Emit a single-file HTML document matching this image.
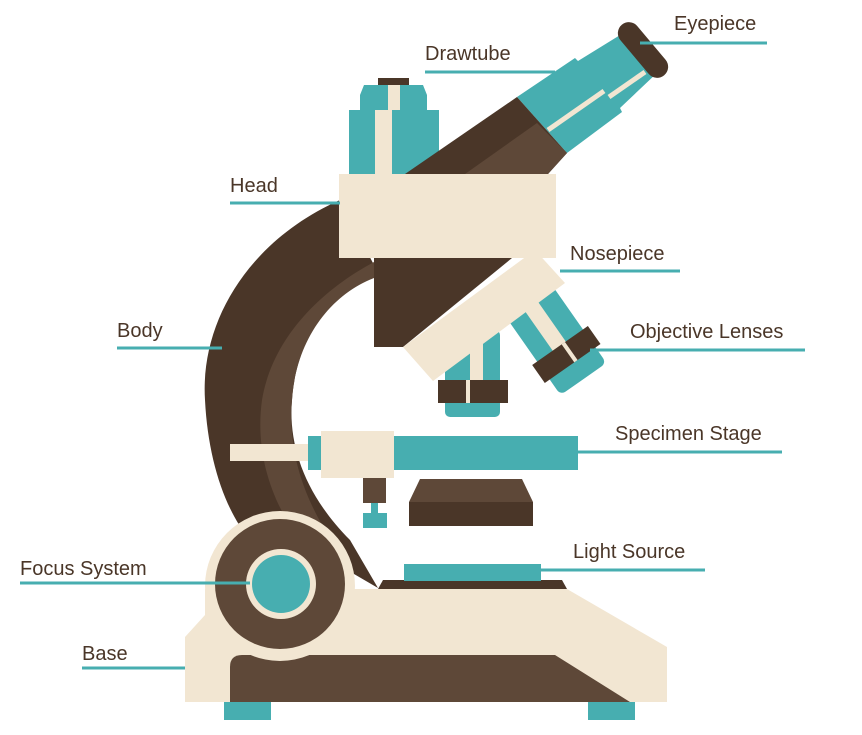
<!DOCTYPE html>
<html><head><meta charset="utf-8"><style>
html,body{margin:0;padding:0;background:#fff;}
svg{display:block;}
text{font-family:"Liberation Sans",sans-serif;font-size:20px;fill:#4A3628;}
</style></head><body>
<svg width="862" height="735" viewBox="0 0 862 735" xmlns="http://www.w3.org/2000/svg">
<!-- arm/body -->
<path d="M340,200 C250,240 200,320 205,400 C208,460 225,510 250,540 L330,560 L378,588 L350,540 C305,495 288,445 292,400 C296,340 330,290 374,265 Z" fill="#4A3628"/>
<path d="M374,262 C318,292 272,340 262,400 C255,450 270,500 300,540 L335,545 C300,495 288,445 292,400 C296,340 330,295 374,278 Z" fill="#5E4838"/>
<!-- base -->
<polygon points="185,637 205,615 205,589 567,589 667,647 667,702 185,702" fill="#F2E6D2"/>
<path d="M242,655 L555,655 L630,702 L230,702 L230,667 Q230,655 242,655 Z" fill="#5E4838"/>
<rect x="224" y="702" width="47" height="18" fill="#47AEB0"/>
<rect x="588" y="702" width="47" height="18" fill="#47AEB0"/>
<!-- light platform -->
<polygon points="383,580 562,580 567,589 378,589" fill="#4A3628"/>
<rect x="404" y="564" width="137" height="17" fill="#47AEB0"/>
<!-- focus -->
<circle cx="280" cy="586" r="75" fill="#F2E6D2"/>
<circle cx="280" cy="584" r="65" fill="#5E4838"/>
<circle cx="281" cy="584" r="35" fill="#F2E6D2"/>
<circle cx="281" cy="584" r="29" fill="#47AEB0"/>
<!-- stage -->
<rect x="230" y="444" width="92" height="17" fill="#F2E6D2"/>
<rect x="308" y="436" width="14" height="34" fill="#47AEB0"/>
<rect x="394" y="436" width="184" height="34" fill="#47AEB0"/>
<rect x="321" y="431" width="73" height="47" fill="#F2E6D2"/>
<rect x="363" y="478" width="23" height="25" fill="#5E4838"/>
<rect x="371" y="503" width="7" height="12" fill="#47AEB0"/>
<rect x="363" y="513" width="24" height="15" fill="#47AEB0"/>
<!-- condenser -->
<polygon points="420,479 522,479 533,502 409,502" fill="#5E4838"/>
<rect x="409" y="502" width="124" height="24" fill="#4A3628"/>
<!-- left eyepiece stem -->
<polygon points="364,85 423,85 427,95 427,110 439,110 439,174 349,174 349,110 360,110 360,95" fill="#47AEB0"/>
<rect x="378" y="78" width="31" height="7" fill="#4A3628"/>
<rect x="388" y="85" width="12" height="25" fill="#F2E6D2"/>
<rect x="375" y="110" width="17" height="64" fill="#F2E6D2"/>
<!-- angled tube -->
<polygon points="517,97 575,58 578,61 625,32 658,72 620,108 622,112 567,153" fill="#47AEB0"/>
<line x1="548" y1="130" x2="604" y2="91" stroke="#F2E6D2" stroke-width="5"/>
<line x1="609" y1="97" x2="645" y2="72" stroke="#F2E6D2" stroke-width="5"/>
<polygon points="405,174 517,97 567,153 548,174" fill="#4A3628"/>
<polygon points="465,174 537,123 567,153 548,174" fill="#5E4838"/>
<rect x="610" y="39" width="66" height="22" rx="11" fill="#4A3628" transform="rotate(50 643 50)"/>
<!-- objectives -->
<g transform="translate(552,334) rotate(-35)">
<rect x="-28" y="-50" width="56" height="105" rx="6" fill="#47AEB0"/>
<rect x="-9" y="-50" width="16" height="66" fill="#F2E6D2"/>
<rect x="-34" y="14" width="68" height="22" fill="#4A3628"/>
<rect x="2" y="14" width="4" height="22" fill="#F2E6D2"/>
</g>
<rect x="445" y="330" width="55" height="87" rx="5" fill="#47AEB0"/>
<rect x="470" y="330" width="13" height="50" fill="#F2E6D2"/>
<rect x="438" y="380" width="70" height="23" fill="#4A3628"/>
<rect x="466" y="380" width="4" height="23" fill="#F2E6D2"/>
<!-- head -->
<polygon points="374,258 512,258 403,347 374,347" fill="#4A3628"/>
<polygon points="403,347 433,381 565,283 535,250" fill="#F2E6D2"/>
<rect x="339" y="174" width="217" height="84" fill="#F2E6D2"/>
<!-- leader lines -->
<g stroke="#47AEB0" stroke-width="3">
<line x1="640" y1="43" x2="767" y2="43"/>
<line x1="425" y1="72" x2="555" y2="72"/>
<line x1="230" y1="203" x2="340" y2="203"/>
<line x1="560" y1="271" x2="680" y2="271"/>
<line x1="117" y1="348" x2="222" y2="348"/>
<line x1="590" y1="350" x2="805" y2="350"/>
<line x1="578" y1="452" x2="782" y2="452"/>
<line x1="541" y1="570" x2="705" y2="570"/>
<line x1="20" y1="583" x2="250" y2="583"/>
<line x1="82" y1="668" x2="185" y2="668"/>
</g>
<text x="674" y="30">Eyepiece</text>
<text x="425" y="60">Drawtube</text>
<text x="230" y="192">Head</text>
<text x="570" y="260">Nosepiece</text>
<text x="117" y="337">Body</text>
<text x="630" y="338">Objective Lenses</text>
<text x="615" y="440">Specimen Stage</text>
<text x="573" y="558">Light Source</text>
<text x="20" y="575">Focus System</text>
<text x="82" y="660">Base</text>
</svg>
</body></html>
